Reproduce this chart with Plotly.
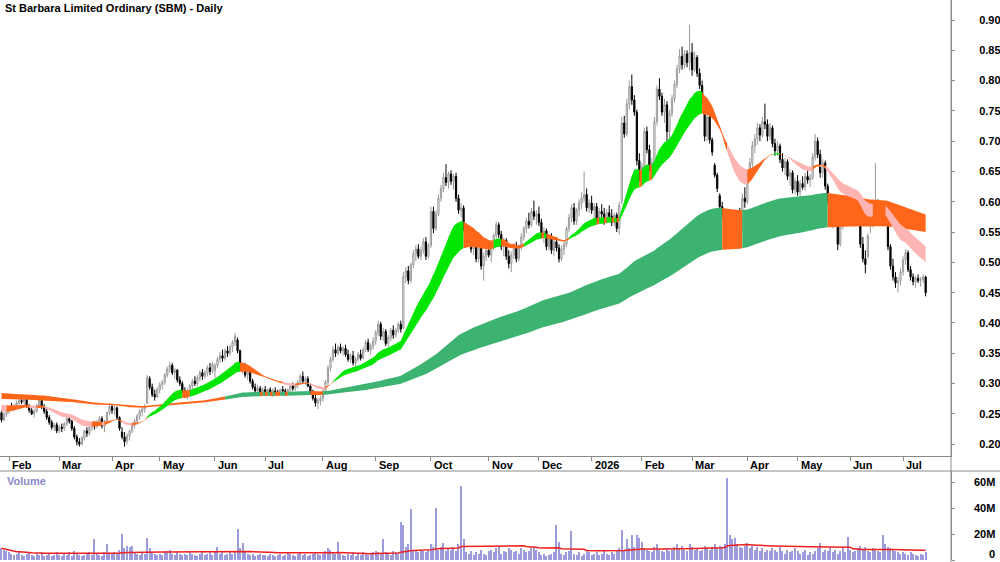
import numpy as np
import pandas as pd
import plotly.graph_objects as go

TITLE = "St Barbara Limited Ordinary (SBM) - Daily"

# ---- daily bars per month: (open, high, low, close) ----
JAN25 = [(0.252,0.255,0.236,0.240),(0.240,0.252,0.238,0.250),(0.250,0.258,0.245,0.255)]
FEB25 = [(0.255,0.262,0.250,0.260),(0.260,0.268,0.255,0.258),(0.258,0.266,0.254,0.264),(0.264,0.272,0.260,0.268),
         (0.268,0.276,0.262,0.272),(0.272,0.280,0.266,0.270),(0.270,0.278,0.262,0.276),(0.274,0.278,0.260,0.262),
         (0.262,0.266,0.252,0.256),(0.256,0.262,0.248,0.250),(0.250,0.258,0.244,0.254),(0.254,0.266,0.252,0.264),
         (0.264,0.276,0.260,0.272),(0.272,0.275,0.258,0.262),(0.262,0.266,0.250,0.254),(0.254,0.258,0.240,0.244),
         (0.244,0.248,0.232,0.236),(0.236,0.240,0.224,0.228),(0.228,0.236,0.222,0.232),(0.232,0.236,0.218,0.222)]
MAR25 = [(0.222,0.232,0.218,0.228),(0.228,0.234,0.220,0.226),(0.226,0.236,0.222,0.234),(0.234,0.246,0.230,0.242),
         (0.242,0.248,0.234,0.238),(0.238,0.240,0.222,0.226),(0.226,0.230,0.208,0.212),(0.212,0.216,0.198,0.204),
         (0.204,0.210,0.196,0.200),(0.200,0.214,0.198,0.210),(0.210,0.224,0.206,0.222),(0.222,0.228,0.212,0.218),
         (0.218,0.232,0.214,0.228),(0.228,0.236,0.222,0.232),(0.232,0.238,0.224,0.230),(0.230,0.240,0.226,0.236),
         (0.236,0.246,0.230,0.242),(0.242,0.246,0.226,0.230),(0.230,0.240,0.220,0.238),(0.238,0.254,0.236,0.252),
         (0.252,0.268,0.248,0.262)]
APR25 = [(0.262,0.266,0.250,0.256),(0.256,0.264,0.248,0.260),(0.260,0.262,0.240,0.244),(0.244,0.246,0.222,0.226),
         (0.220,0.228,0.208,0.212),(0.212,0.220,0.196,0.204),(0.206,0.218,0.200,0.214),(0.214,0.224,0.206,0.222),
         (0.222,0.236,0.218,0.232),(0.232,0.242,0.226,0.238),(0.238,0.250,0.232,0.246),(0.246,0.258,0.240,0.254),
         (0.254,0.262,0.246,0.258),(0.258,0.266,0.252,0.262),(0.268,0.314,0.266,0.310),(0.308,0.312,0.290,0.294),
         (0.294,0.300,0.278,0.282),(0.282,0.290,0.272,0.278),(0.278,0.294,0.276,0.290)]
MAY25 = [(0.290,0.302,0.284,0.298),(0.298,0.306,0.290,0.302),(0.302,0.318,0.298,0.314),(0.314,0.328,0.310,0.324),
         (0.324,0.336,0.318,0.330),(0.330,0.334,0.314,0.318),(0.318,0.326,0.308,0.322),(0.322,0.324,0.302,0.306),
         (0.306,0.312,0.296,0.300),(0.300,0.304,0.284,0.288),(0.288,0.294,0.276,0.280),(0.280,0.292,0.274,0.288),
         (0.288,0.300,0.284,0.296),(0.296,0.308,0.290,0.304),(0.304,0.312,0.296,0.300),(0.300,0.314,0.296,0.310),
         (0.310,0.322,0.304,0.318),(0.318,0.324,0.306,0.312),(0.312,0.322,0.308,0.318),(0.318,0.330,0.312,0.326),
         (0.326,0.334,0.314,0.320),(0.320,0.336,0.316,0.332)]
JUN25 = [(0.322,0.334,0.300,0.330),(0.330,0.344,0.326,0.340),(0.340,0.352,0.334,0.346),(0.346,0.356,0.336,0.342),
         (0.342,0.358,0.338,0.354),(0.354,0.362,0.344,0.350),(0.350,0.364,0.346,0.360),(0.360,0.372,0.352,0.368),
         (0.368,0.384,0.362,0.378),(0.372,0.376,0.350,0.354),(0.354,0.356,0.320,0.324),(0.324,0.336,0.316,0.330),
         (0.330,0.334,0.310,0.314),(0.314,0.326,0.306,0.320),(0.320,0.324,0.300,0.304),(0.304,0.308,0.290,0.294),
         (0.294,0.300,0.284,0.288),(0.288,0.298,0.282,0.292),(0.292,0.296,0.280,0.284),(0.284,0.294,0.280,0.290)]
JUL25 = [(0.290,0.296,0.282,0.286),(0.286,0.292,0.280,0.290),(0.290,0.294,0.282,0.284),(0.284,0.292,0.278,0.288),
         (0.288,0.294,0.282,0.286),(0.286,0.290,0.280,0.284),(0.284,0.292,0.280,0.290),(0.290,0.296,0.284,0.288),
         (0.288,0.292,0.280,0.282),(0.282,0.292,0.280,0.290),(0.290,0.300,0.286,0.296),(0.296,0.302,0.288,0.292),
         (0.292,0.300,0.288,0.298),(0.298,0.306,0.292,0.302),(0.302,0.316,0.298,0.312),(0.312,0.320,0.300,0.304),
         (0.304,0.312,0.298,0.308),(0.308,0.312,0.294,0.296),(0.296,0.300,0.282,0.286),(0.286,0.290,0.272,0.276),
         (0.276,0.282,0.262,0.268),(0.268,0.276,0.258,0.272),(0.272,0.280,0.264,0.276)]
AUG25 = [(0.276,0.292,0.270,0.288),(0.288,0.306,0.284,0.302),(0.302,0.330,0.298,0.326),(0.326,0.344,0.320,0.340),
         (0.340,0.362,0.336,0.356),(0.356,0.366,0.344,0.350),(0.350,0.364,0.346,0.360),(0.360,0.366,0.350,0.354),
         (0.354,0.362,0.346,0.358),(0.358,0.364,0.344,0.348),(0.348,0.356,0.336,0.340),(0.340,0.350,0.334,0.346),
         (0.346,0.354,0.330,0.334),(0.334,0.344,0.328,0.340),(0.340,0.352,0.336,0.348),(0.348,0.356,0.338,0.342),
         (0.342,0.360,0.340,0.356),(0.356,0.372,0.352,0.368),(0.368,0.374,0.352,0.356),(0.356,0.366,0.348,0.362),
         (0.362,0.376,0.356,0.370)]
SEP25 = [(0.370,0.388,0.364,0.384),(0.384,0.404,0.378,0.398),(0.398,0.402,0.372,0.378),(0.378,0.392,0.370,0.386),
         (0.386,0.390,0.362,0.366),(0.366,0.380,0.360,0.376),(0.376,0.392,0.370,0.388),(0.388,0.396,0.374,0.380),
         (0.380,0.392,0.376,0.388),(0.388,0.402,0.384,0.398),(0.398,0.404,0.384,0.390),(0.392,0.484,0.390,0.476),
         (0.476,0.492,0.466,0.486),(0.486,0.494,0.464,0.470),(0.470,0.500,0.466,0.496),(0.496,0.520,0.490,0.514),
         (0.514,0.528,0.502,0.522),(0.522,0.530,0.506,0.510),(0.510,0.526,0.504,0.520),(0.520,0.540,0.514,0.534),
         (0.534,0.542,0.504,0.510),(0.510,0.532,0.506,0.528)]
OCT25 = [(0.528,0.592,0.524,0.584),(0.584,0.592,0.548,0.556),(0.556,0.586,0.552,0.580),(0.580,0.612,0.576,0.606),
         (0.606,0.628,0.600,0.622),(0.622,0.648,0.616,0.640),(0.640,0.662,0.626,0.632),(0.632,0.650,0.622,0.646),
         (0.646,0.652,0.628,0.634),(0.634,0.646,0.620,0.642),(0.642,0.648,0.600,0.606),(0.606,0.612,0.580,0.586),
         (0.586,0.598,0.574,0.590),(0.590,0.594,0.552,0.558),(0.558,0.564,0.532,0.540),(0.540,0.556,0.526,0.548),
         (0.548,0.552,0.516,0.522),(0.522,0.538,0.512,0.530),(0.530,0.536,0.500,0.506),(0.506,0.528,0.500,0.524),
         (0.524,0.530,0.488,0.494),(0.494,0.516,0.470,0.510),(0.510,0.526,0.502,0.520)]
NOV25 = [(0.520,0.534,0.508,0.512),(0.512,0.530,0.500,0.526),(0.526,0.548,0.520,0.544),(0.544,0.568,0.540,0.562),
         (0.562,0.566,0.540,0.546),(0.546,0.552,0.520,0.526),(0.526,0.540,0.510,0.536),(0.536,0.540,0.504,0.510),
         (0.510,0.520,0.490,0.498),(0.498,0.518,0.484,0.512),(0.512,0.532,0.506,0.528),(0.528,0.534,0.500,0.506),
         (0.506,0.530,0.502,0.524),(0.524,0.548,0.520,0.542),(0.542,0.560,0.536,0.556),(0.556,0.574,0.548,0.568),
         (0.568,0.582,0.556,0.562),(0.562,0.590,0.558,0.584),(0.584,0.602,0.570,0.576),(0.576,0.586,0.562,0.580)]
DEC25 = [(0.580,0.592,0.560,0.566),(0.566,0.572,0.540,0.546),(0.546,0.558,0.532,0.552),(0.552,0.556,0.520,0.526),
         (0.526,0.546,0.520,0.540),(0.540,0.548,0.514,0.520),(0.520,0.540,0.510,0.534),(0.534,0.542,0.518,0.524),
         (0.524,0.530,0.500,0.506),(0.506,0.528,0.502,0.522),(0.522,0.536,0.512,0.530),(0.530,0.560,0.526,0.556),
         (0.556,0.580,0.550,0.574),(0.574,0.596,0.566,0.590),(0.590,0.598,0.562,0.568),(0.568,0.590,0.562,0.586),
         (0.586,0.604,0.576,0.598),(0.598,0.616,0.588,0.606),(0.606,0.650,0.600,0.612),(0.612,0.622,0.584,0.590),
         (0.590,0.604,0.582,0.598)]
JAN26 = [(0.598,0.610,0.580,0.586),(0.586,0.598,0.570,0.592),(0.592,0.598,0.566,0.572),(0.572,0.590,0.566,0.584),
         (0.584,0.596,0.574,0.580),(0.580,0.590,0.562,0.568),(0.568,0.588,0.564,0.582),(0.582,0.594,0.570,0.576),
         (0.576,0.588,0.560,0.566),(0.566,0.582,0.560,0.578),(0.578,0.582,0.550,0.556),(0.556,0.600,0.546,0.594),
         (0.600,0.740,0.596,0.730),(0.730,0.742,0.706,0.712),(0.712,0.770,0.708,0.762),(0.762,0.800,0.752,0.790),
         (0.790,0.810,0.760,0.768),(0.768,0.776,0.742,0.748),(0.748,0.752,0.660,0.668),(0.668,0.680,0.634,0.642)]
FEB26 = [(0.642,0.664,0.632,0.658),(0.658,0.722,0.654,0.716),(0.716,0.724,0.680,0.686),(0.686,0.694,0.650,0.656),
         (0.656,0.672,0.640,0.664),(0.664,0.740,0.660,0.732),(0.732,0.792,0.726,0.786),(0.786,0.804,0.768,0.774),
         (0.774,0.780,0.742,0.748),(0.748,0.770,0.730,0.760),(0.760,0.766,0.700,0.716),(0.716,0.752,0.704,0.746),
         (0.746,0.776,0.740,0.770),(0.770,0.800,0.764,0.794),(0.794,0.826,0.788,0.820),(0.820,0.852,0.812,0.840),
         (0.840,0.856,0.818,0.826),(0.826,0.850,0.820,0.844),(0.844,0.850,0.822,0.830),(0.830,0.892,0.816,0.846)]
MAR26 = [(0.846,0.862,0.808,0.818),(0.818,0.848,0.814,0.838),(0.838,0.842,0.806,0.812),(0.812,0.820,0.786,0.792),
         (0.792,0.800,0.760,0.766),(0.766,0.772,0.700,0.708),(0.708,0.748,0.700,0.740),(0.740,0.746,0.696,0.702),
         (0.702,0.706,0.676,0.682),(0.660,0.664,0.640,0.644),(0.644,0.648,0.616,0.622),(0.610,0.614,0.586,0.592),
         (0.592,0.600,0.574,0.580),(0.580,0.584,0.536,0.542),(0.542,0.566,0.530,0.560),(0.560,0.568,0.522,0.530),
         (0.530,0.554,0.524,0.548),(0.548,0.572,0.538,0.544),(0.544,0.584,0.540,0.578),(0.578,0.590,0.548,0.556),
         (0.556,0.614,0.552,0.606),(0.606,0.624,0.590,0.600)]
APR26 = [(0.600,0.650,0.596,0.644),(0.644,0.672,0.636,0.664),(0.664,0.700,0.656,0.692),(0.692,0.712,0.680,0.704),
         (0.704,0.730,0.694,0.722),(0.722,0.728,0.700,0.710),(0.710,0.740,0.706,0.732),(0.732,0.762,0.720,0.728),
         (0.728,0.736,0.700,0.708),(0.708,0.730,0.702,0.722),(0.722,0.726,0.690,0.696),(0.696,0.704,0.676,0.684),
         (0.684,0.700,0.676,0.692),(0.692,0.696,0.664,0.670),(0.670,0.680,0.650,0.656),(0.656,0.672,0.644,0.666),
         (0.666,0.670,0.636,0.642),(0.642,0.654,0.626,0.648),(0.648,0.652,0.614,0.620),(0.620,0.640,0.612,0.634)]
MAY26 = [(0.634,0.644,0.610,0.616),(0.616,0.636,0.606,0.630),(0.630,0.642,0.620,0.624),(0.624,0.648,0.618,0.642),
         (0.642,0.652,0.630,0.636),(0.636,0.646,0.624,0.640),(0.640,0.680,0.636,0.674),(0.674,0.712,0.668,0.700),
         (0.700,0.706,0.672,0.678),(0.678,0.686,0.640,0.648),(0.648,0.670,0.640,0.664),(0.664,0.668,0.620,0.626),
         (0.626,0.630,0.596,0.604),(0.604,0.612,0.560,0.568),(0.568,0.590,0.556,0.584),(0.584,0.590,0.560,0.566),
         (0.566,0.574,0.520,0.530),(0.530,0.566,0.526,0.560),(0.560,0.588,0.554,0.582),(0.582,0.600,0.576,0.592),
         (0.592,0.608,0.586,0.590)]
JUN26 = [(0.590,0.612,0.584,0.594),(0.594,0.608,0.578,0.584),(0.584,0.608,0.580,0.594),(0.594,0.600,0.572,0.578),
         (0.560,0.566,0.524,0.530),(0.530,0.542,0.500,0.506),(0.506,0.520,0.482,0.496),(0.510,0.548,0.506,0.544),
         (0.560,0.566,0.548,0.562),(0.562,0.604,0.558,0.592),(0.592,0.664,0.586,0.596),(0.596,0.604,0.582,0.590),
         (0.590,0.600,0.572,0.580),(0.580,0.596,0.570,0.588),(0.588,0.594,0.560,0.566),(0.566,0.570,0.520,0.526),
         (0.526,0.530,0.488,0.494),(0.494,0.506,0.470,0.476),(0.476,0.484,0.458,0.466),(0.466,0.476,0.450,0.470),
         (0.470,0.490,0.462,0.484)]
JUL26 = [(0.484,0.510,0.478,0.504),(0.504,0.522,0.496,0.516),(0.516,0.520,0.484,0.488),(0.488,0.494,0.470,0.476),
         (0.476,0.482,0.462,0.468),(0.468,0.478,0.458,0.474),(0.474,0.480,0.466,0.470),(0.470,0.476,0.460,0.472),
         (0.472,0.480,0.466,0.476),(0.476,0.478,0.444,0.450)]

# ---- daily volume per month (millions of shares) ----
VOL_JAN25 = [9, 8, 7]
VOL_FEB25 = [6,5,4,5,7,4,3,5,6,4, 3,5,4,6,3,4,5,3,4,6]
VOL_MAR25 = [4,3,5,4,6,3,7,5,4,3, 4,5,6,4,16,5,4,3,6,12,5]
VOL_APR25 = [5,6,5,8,20,9,11,10,11,6, 5,4,6,5,17,9,6,5,4]
VOL_MAY25 = [5,4,6,7,8,5,4,6,5,4, 5,4,6,5,4,3,5,6,4,5, 6,4]
VOL_JUN25 = [6,10,5,6,4,5,7,5,6,24, 9,13,6,5,4,5,3,4,5,4]
VOL_JUL25 = [4,3,5,4,3,4,5,3,4,6, 5,4,3,5,6,4,5,3,4,5, 6,5,4]
VOL_AUG25 = [5,7,9,8,6,5,14,5,4,3, 5,4,6,3,5,4,6,5,4,5, 6]
VOL_SEP25 = [7,6,5,16,6,5,4,7,6,5, 29,27,10,12,39,8,7,6,8,7, 6,8]
VOL_OCT25 = [12,10,40,8,10,13,7,9,8,10, 7,12,57,16,6,5,7,4,6,5, 8,5,4]
VOL_NOV25 = [7,8,6,9,10,5,7,6,9,8, 6,7,5,9,8,6,7,9,10,8]
VOL_DEC25 = [6,4,5,3,4,5,6,27,14,5, 4,6,7,22,5,4,6,3,5,8,6]
VOL_JAN26 = [4,5,6,4,5,7,5,4,6,5, 8,9,23,8,16,9,19,10,19,17]
VOL_FEB26 = [14,9,8,7,6,10,12,8,7,6, 9,7,8,10,12,9,11,8,7,12]
VOL_MAR26 = [10,8,9,7,8,11,9,8,10,12, 9,11,10,12,63,19,16,17,12,10, 9,11]
VOL_APR26 = [13,9,11,8,10,7,9,6,8,7, 9,8,6,10,7,5,8,6,7,9]
VOL_MAY26 = [7,5,6,8,4,6,5,7,9,13, 6,8,7,10,6,8,5,7,9,6, 18]
VOL_JUN26 = [8,6,7,9,11,8,10,7,6,9, 8,7,6,19,12,10,9,8,7,6, 5]
VOL_JUL26 = [6,5,4,6,5,4,3,5,4,6]

MONTH_LABELS = ["", "Feb", "Mar", "Apr", "May", "Jun", "Jul", "Aug", "Sep", "Oct", "Nov", "Dec",
                "2026", "Feb", "Mar", "Apr", "May", "Jun", "Jul"]
PRICE_TICKS = [0.20, 0.25, 0.30, 0.35, 0.40, 0.45, 0.50, 0.55, 0.60, 0.65, 0.70, 0.75, 0.80, 0.85, 0.90]
VOL_TICKS = [0, 20e6, 40e6, 60e6]
VOL_TICK_TEXT = ["0", "20M", "40M", "60M"]

# multiple moving-average ribbons; starting levels
SHORT_PERIODS = [21, 24, 26, 29, 32, 36]
SHORT_START = [0.255, 0.257, 0.259, 0.261, 0.264, 0.267]
LONG_PERIODS = [150, 165, 180, 195, 215, 240]
LONG_START = [0.284, 0.285, 0.284, 0.282, 0.279, 0.275]
VOL_MA_PERIOD = 50

MONTHS = [JAN25, FEB25, MAR25, APR25, MAY25, JUN25, JUL25, AUG25, SEP25, OCT25, NOV25, DEC25,
          JAN26, FEB26, MAR26, APR26, MAY26, JUN26, JUL26]
VOLS = [VOL_JAN25, VOL_FEB25, VOL_MAR25, VOL_APR25, VOL_MAY25, VOL_JUN25, VOL_JUL25, VOL_AUG25,
        VOL_SEP25, VOL_OCT25, VOL_NOV25, VOL_DEC25, VOL_JAN26, VOL_FEB26, VOL_MAR26, VOL_APR26,
        VOL_MAY26, VOL_JUN26, VOL_JUL26]

bars = [b for m in MONTHS for b in m]
vol = np.array([v for m in VOLS for v in m], dtype=float) * 1e6
assert len(bars) == len(vol), (len(bars), len(vol))
N = len(bars)
o = np.array([b[0] for b in bars]); h = np.array([b[1] for b in bars])
l = np.array([b[2] for b in bars]); c = np.array([b[3] for b in bars])
idx = np.arange(N)

starts = np.cumsum([0] + [len(m) for m in MONTHS[:-1]])
tick_idx = [int(s) for s, lab in zip(starts, MONTH_LABELS) if lab]
tick_lab = [lab for lab in MONTH_LABELS if lab]


def ema_stack(close, periods, seeds):
    rows = []
    for n, s in zip(periods, seeds):
        a = 2.0 / (n + 1)
        e = s
        r = []
        for v in close:
            e = e + a * (v - e)
            r.append(e)
        rows.append(r)
    return np.array(rows)


GREEN_S = "#00e600"
GREEN_L = "#3cb371"
ORANGE = "#ff661a"
PINK = "#ffb4b4"

fig = go.Figure()


def add_ribbon(stack, bull_color):
    up = stack.max(axis=0)
    lo = stack.min(axis=0)
    d = np.diff(stack, axis=0)
    fast = stack[0]
    bull = (d < 0).all(axis=0) & (c > fast)
    bear = (d > 0).all(axis=0) & (c < fast)
    state = np.where(bull, 0, np.where(bear, 2, 1))
    cols = {0: bull_color, 1: ORANGE, 2: PINK}
    s = 0
    for i in range(1, N + 1):
        if i == N or state[i] != state[s]:
            e = min(i, N - 1)
            xs = list(range(s, e + 1))
            fig.add_trace(go.Scatter(
                x=xs + xs[::-1], y=list(up[xs]) + list(lo[xs][::-1]),
                fill="toself", fillcolor=cols[int(state[s])], mode="lines",
                line=dict(width=0, color=cols[int(state[s])]),
                hoverinfo="skip", showlegend=False, xaxis="x", yaxis="y"))
            s = i


add_ribbon(ema_stack(c, LONG_PERIODS, LONG_START), GREEN_L)
add_ribbon(ema_stack(c, SHORT_PERIODS, SHORT_START), GREEN_S)

fig.add_trace(go.Candlestick(
    x=idx, open=o, high=h, low=l, close=c,
    increasing=dict(line=dict(color="#9a9a9a", width=1), fillcolor="#ffffff"),
    decreasing=dict(line=dict(color="#000000", width=1), fillcolor="#000000"),
    whiskerwidth=0, showlegend=False, hoverinfo="skip", xaxis="x", yaxis="y"))

fig.add_trace(go.Bar(x=idx, y=vol, width=0.45, marker=dict(color="#9c9cdc", line=dict(width=0)),
                     showlegend=False, hoverinfo="skip", xaxis="x2", yaxis="y2"))
vol_ma = pd.Series(vol).rolling(VOL_MA_PERIOD, min_periods=1).mean()
fig.add_trace(go.Scatter(x=idx, y=vol_ma, mode="lines", line=dict(color="#ee2020", width=1.5),
                         showlegend=False, hoverinfo="skip", xaxis="x2", yaxis="y2"))

W, H = 1000, 562
PLOT_W = 951
XR = [-0.6, 378.1]
FONT = "Liberation Sans, Arial, sans-serif"
AX = "#8a8a8a"

fig.update_layout(
    width=W, height=H, margin=dict(l=0, r=W - PLOT_W, t=0, b=0),
    paper_bgcolor="white", plot_bgcolor="white",
    font=dict(family=FONT, size=11, color="#000"),
    showlegend=False, bargap=0,
    xaxis=dict(domain=[0, 1], anchor="y", range=XR, tickvals=tick_idx, showticklabels=False,
               ticks="outside", ticklen=4, tickcolor=AX, showline=True, linecolor=AX, linewidth=1,
               showgrid=False, zeroline=False, rangeslider=dict(visible=False), fixedrange=True),
    xaxis2=dict(domain=[0, 1], anchor="y2", range=XR, visible=False, showgrid=False, zeroline=False),
    yaxis=dict(domain=[(H - 456) / H, 1], range=[0.1805, 0.933], side="right", anchor="x",
               tickvals=PRICE_TICKS, ticktext=[f"{t:.2f}" for t in PRICE_TICKS],
               ticks="outside", ticklen=3, tickcolor=AX, showline=True, linecolor=AX,
               showgrid=False, zeroline=False, ticklabelstandoff=22,
               tickfont=dict(family=FONT, size=11, weight="bold")),
    yaxis2=dict(domain=[2 / H, (H - 471) / H], range=[0, 68.5e6], side="right", anchor="x2",
                tickvals=VOL_TICKS, showticklabels=False, ticks="outside", ticklen=3, tickcolor=AX,
                showline=True, linecolor=AX, showgrid=False, zeroline=False),
)

ann = [dict(text=TITLE, x=3 / PLOT_W, y=1 - 8 / H, xref="paper", yref="paper", xanchor="left",
            yanchor="middle", showarrow=False, font=dict(family=FONT, size=11, weight="bold", color="#000")),
       dict(text="Volume", x=5 / PLOT_W, y=(H - 481) / H, xref="paper", yref="paper", xanchor="left",
            yanchor="middle", showarrow=False, font=dict(family=FONT, size=11, weight="bold", color="#8a8ac8"))]
for ti, tl in zip(tick_idx, tick_lab):
    ann.append(dict(text=tl, x=ti, y=(H - 465) / H, xref="x", yref="paper", xanchor="left", xshift=1,
                    yanchor="middle", showarrow=False, font=dict(family=FONT, size=11, weight="bold", color="#000")))
for tv, tt in zip(VOL_TICKS, VOL_TICK_TEXT):
    ann.append(dict(text=tt, x=1, y=tv, xref="paper", yref="y2", xanchor="right", xshift=46,
                    yanchor="bottom" if tv == 0 else "middle", yshift=-2 if tv == 0 else 0,
                    showarrow=False, font=dict(family=FONT, size=11, weight="bold", color="#000")))
fig.update_layout(annotations=ann)

fig.update_layout(shapes=[
    dict(type="line", xref="paper", yref="paper", x0=0, x1=W / PLOT_W, y0=(H - 471) / H, y1=(H - 471) / H,
         line=dict(color=AX, width=1)),
    dict(type="line", xref="paper", yref="paper", x0=1, x1=1, y0=0, y1=1, line=dict(color=AX, width=1)),
])

fig.write_html("out.html")
